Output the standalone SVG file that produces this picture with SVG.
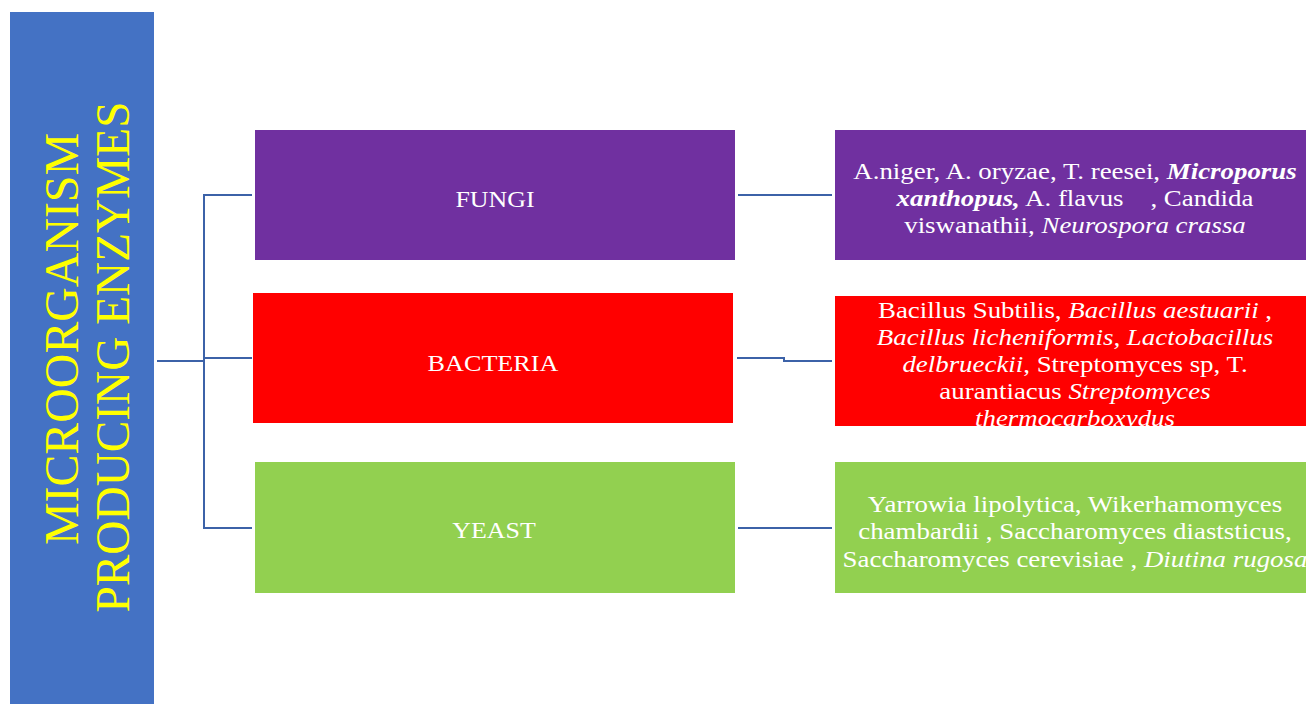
<svg xmlns="http://www.w3.org/2000/svg" width="1306" height="704" viewBox="0 0 1306 704">
<style>
.t{font-family:"Liberation Serif","Times New Roman",serif;fill:#FFFFFF;font-size:24px;text-anchor:middle;white-space:pre}
.v{font-family:"Liberation Serif","Times New Roman",serif;fill:#FFFF00;font-size:48px;text-anchor:middle}
.i{font-style:italic}
.bi{font-style:italic;font-weight:bold}
.c{fill:none;stroke:#3C62A8;stroke-width:2}
</style>
<defs>
<clipPath id="clipB"><rect x="835" y="296" width="471" height="130"/></clipPath>
</defs>
<rect width="1306" height="704" fill="#FFFFFF"/>
<g id="root">
<rect x="10" y="12" width="144" height="692" fill="#4472C4"/>
<text class="v" transform="translate(78,339) rotate(-90)" textLength="412" lengthAdjust="spacingAndGlyphs">MICROORGANISM</text>
<text class="v" transform="translate(129,357) rotate(-90)" textLength="511" lengthAdjust="spacingAndGlyphs">PRODUCING ENZYMES</text>
</g>
<g id="connectors">
<polyline class="c" points="157,361 204,361"/>
<polyline class="c" points="252,195 204,195 204,528 252,528"/>
<polyline class="c" points="204,358 252,358"/>
<polyline class="c" points="738,195 832,195"/>
<polyline class="c" points="737,358 784,358 784,361 832,361"/>
<polyline class="c" points="738,528 832,528"/>
</g>
<g id="fungi">
<rect x="255" y="130" width="480" height="130" fill="#7030A0"/>
<text class="t" transform="translate(495,207) scale(1.08,1)">FUNGI</text>
</g>
<g id="bacteria">
<rect x="253" y="293" width="480" height="130" fill="#FF0000"/>
<text class="t" transform="translate(493,371) scale(1.09,1)">BACTERIA</text>
</g>
<g id="yeast">
<rect x="255" y="462" width="480" height="131" fill="#92D050"/>
<text class="t" transform="translate(494,538) scale(1.08,1)">YEAST</text>
</g>
<g id="fungi-species">
<rect x="835" y="130" width="471" height="130" fill="#7030A0"/>
<g transform="translate(1075,0) scale(1.12,1)">
<text class="t" x="0" y="179">A.niger, A. oryzae, T. reesei, <tspan class="bi">Microporus</tspan></text>
<text class="t" x="0" y="206"><tspan class="bi">xanthopus,</tspan> A. flavus    , Candida</text>
<text class="t" x="0" y="233">viswanathii, <tspan class="i">Neurospora crassa</tspan></text>
</g>
</g>
<g id="bacteria-species">
<rect x="835" y="296" width="471" height="130" fill="#FF0000"/>
<g clip-path="url(#clipB)">
<g transform="translate(1075,0) scale(1.12,1)">
<text class="t" x="0" y="318">Bacillus Subtilis, <tspan class="i">Bacillus aestuarii</tspan> ,</text>
<text class="t" x="0" y="345"><tspan class="i">Bacillus licheniformis, Lactobacillus</tspan></text>
<text class="t" x="0" y="372"><tspan class="i">delbrueckii</tspan>, Streptomyces sp, T.</text>
<text class="t" x="0" y="399">aurantiacus <tspan class="i">Streptomyces</tspan></text>
<text class="t" x="0" y="426"><tspan class="i">thermocarboxydus</tspan></text>
</g>
</g>
</g>
<g id="yeast-species">
<rect x="835" y="462" width="471" height="131" fill="#92D050"/>
<g transform="translate(1075,0) scale(1.12,1)">
<text class="t" x="0" y="512">Yarrowia lipolytica, Wikerhamomyces</text>
<text class="t" x="0" y="539">chambardii , Saccharomyces diaststicus,</text>
<text class="t" x="0" y="567">Saccharomyces cerevisiae , <tspan class="i">Diutina rugosa</tspan></text>
</g>
</g>
</svg>
